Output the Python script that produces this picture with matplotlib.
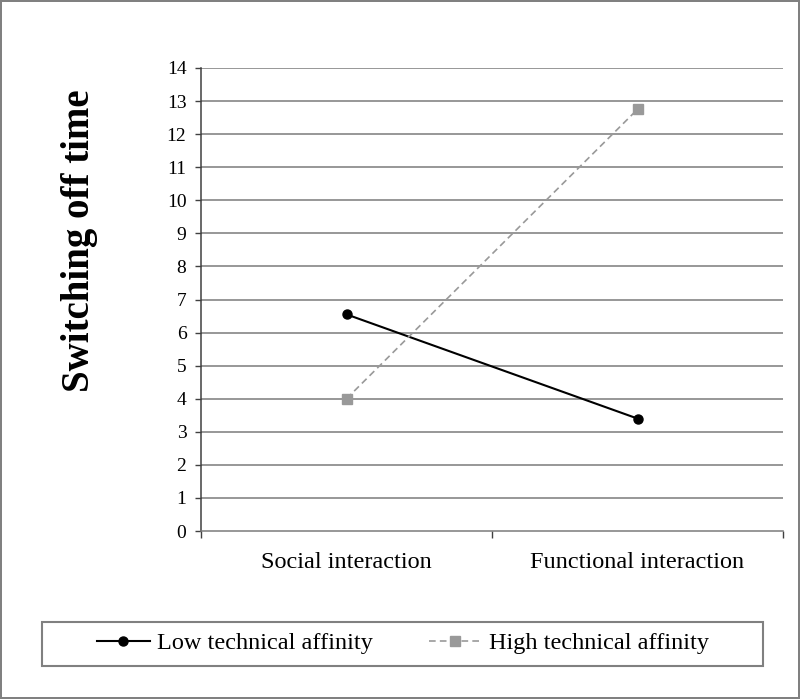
import matplotlib
matplotlib.use('Agg')
import matplotlib.pyplot as plt
from matplotlib.patches import Rectangle

plt.rcParams['font.family'] = ['Liberation Serif', 'DejaVu Serif']

# data
conditions = ['Social interaction', 'Functional interaction']
low_affinity = [6.55, 3.4]
high_affinity = [4.0, 12.75]
series_names = ['Low technical affinity', 'High technical affinity']
y_ticks = list(range(0, 15))

W, H = 800, 699
fig = plt.figure(figsize=(W / 100, H / 100), dpi=100,
                 edgecolor='#808080', linewidth=1.5)

ax = fig.add_axes([201 / W, 1 - 531 / H, (783 - 201) / W, (531 - 68) / H])

x = range(len(conditions))
ax.plot(x, low_affinity, color='black', lw=1.5, marker='o', markersize=6.5,
        label=series_names[0], zorder=3)
ax.plot(x, high_affinity, color='#999999', lw=1.2, ls=(0, (4, 2.5)),
        marker='s', markersize=6.5, label=series_names[1], zorder=3)

ax.set_xlim(-0.5, 1.5)
ax.set_ylim(0, 14)
ax.set_yticks(y_ticks)
ax.set_yticklabels([str(v) for v in y_ticks], fontsize=14)
ax.tick_params(axis='y', direction='out', length=4.5, width=1,
               color='#404040', pad=6)
for v in y_ticks[1:]:
    ax.axhline(v, color='#7a7a7a', lw=1.1, zorder=1)

ax.set_xticks([-0.5, 0.5, 1.5])
ax.set_xticklabels([])
ax.set_xticks([0, 1], minor=True)
ax.set_xticklabels(conditions, minor=True, fontsize=17.5)
ax.tick_params(axis='x', which='major', direction='out', length=5,
               width=1, color='#404040')
ax.tick_params(axis='x', which='minor', length=0, pad=15)

for s in ['top', 'right']:
    ax.spines[s].set_visible(False)
ax.spines['left'].set_color('#404040')
ax.spines['left'].set_linewidth(1.1)
ax.spines['bottom'].set_color('#7a7a7a')
ax.spines['bottom'].set_linewidth(1.1)

fig.text(80 / W, 1 - 241 / H, 'Switching off time', rotation=90,
         fontsize=28, fontweight='bold', ha='center', va='center')

# legend box
fig.patches.append(Rectangle((42 / W, 1 - 666 / H), (763 - 42) / W, 44 / H,
                             transform=fig.transFigure, fill=False,
                             edgecolor='#808080', lw=1.5))
fig.legend(loc='center left', bbox_to_anchor=(97 / W, 1 - 643 / H), ncol=2,
           frameon=False, fontsize=17.5, borderpad=0, borderaxespad=0,
           handlelength=2.18, handletextpad=0.29, columnspacing=2.3)

fig.savefig('out.png', dpi=100)
